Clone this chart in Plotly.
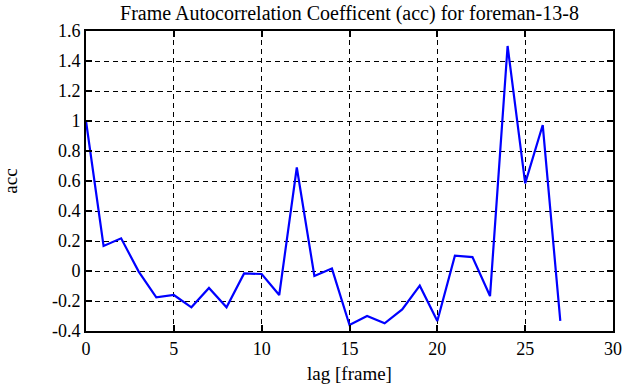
import plotly.graph_objects as go

lags = list(range(28))
acc = [1.0, 0.167, 0.218, -0.004, -0.176, -0.16, -0.242, -0.113, -0.242, -0.016,
       -0.02, -0.16, 0.69, -0.033, 0.016, -0.36, -0.30, -0.349, -0.256, -0.098,
       -0.333, 0.102, 0.093, -0.167, 1.5, 0.584, 0.973, -0.333]

x_ticks = [0, 5, 10, 15, 20, 25, 30]
x_labels = ["0", "5", "10", "15", "20", "25", "30"]
y_ticks = [-0.4, -0.2, 0, 0.2, 0.4, 0.6, 0.8, 1.0, 1.2, 1.4, 1.6]
y_labels = ["-0.4", "-0.2", "0", "0.2", "0.4", "0.6", "0.8", "1", "1.2", "1.4", "1.6"]

FONT = "Liberation Serif, Times New Roman, serif"

fig = go.Figure(go.Scatter(x=lags, y=acc, mode="lines",
                           line=dict(color="#0000ff", width=2.2)))

axis_common = dict(showline=True, linecolor="black", linewidth=2, mirror="ticks",
                   ticks="inside", ticklen=6, tickwidth=1.5, tickcolor="black",
                   showgrid=True, gridcolor="black", gridwidth=1, griddash="5px,4px",
                   zeroline=False, automargin=False,
                   tickfont=dict(family=FONT, size=18, color="black"))

fig.update_xaxes(range=[0, 30], tickvals=x_ticks, ticktext=x_labels,
                 title=dict(text="lag [frame]", font=dict(family=FONT, size=19, color="black"),
                            standoff=9),
                 **axis_common)
fig.update_yaxes(range=[-0.4, 1.6], tickvals=y_ticks, ticktext=y_labels,
                 title=dict(text="acc", font=dict(family=FONT, size=19, color="black"),
                            standoff=29),
                 **axis_common)

fig.update_layout(
    width=635, height=387,
    margin=dict(l=86, r=22, t=31, b=56),
    paper_bgcolor="white", plot_bgcolor="white",
    font=dict(family=FONT, size=18, color="black"),
    showlegend=False,
    title=dict(text="Frame Autocorrelation Coefficent (acc) for foreman-13-8",
               font=dict(family=FONT, size=20, color="black"),
               x=0.5, xref="paper", xanchor="center",
               y=1 - 13 / 387, yref="container", yanchor="middle"),
)

fig.write_html("out.html", config={"displayModeBar": False},
               post_script="document.body.style.margin='0';")
